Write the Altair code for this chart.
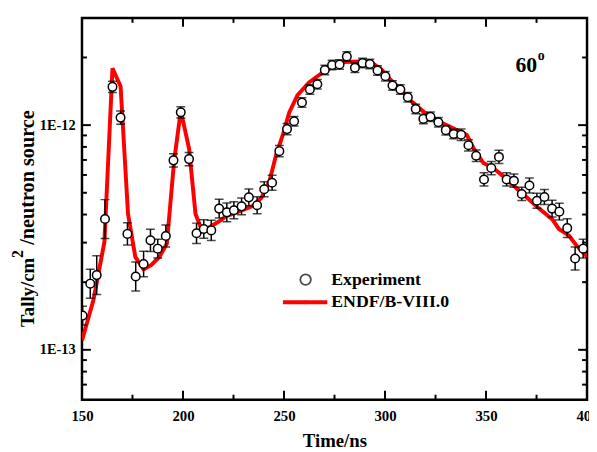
import altair as alt
import pandas as pd

# ---------------- data ----------------
exp_t = [150.3, 154.1, 157.3, 161.4, 165.1, 169.1, 172.5, 176.6, 180.5, 183.9,
         187.5, 191.5, 195.3, 198.9, 203.0, 206.7, 210.3, 214.0, 217.9, 221.7,
         225.2, 229.0, 232.6, 236.7, 240.2, 244.1, 247.7, 251.5, 255.0, 258.9,
         262.8, 266.5, 270.2, 273.8, 277.5, 281.1, 285.1, 288.9, 292.5, 296.3,
         300.2, 303.7, 307.6, 311.3, 315.2, 319.0, 322.5, 326.4, 330.1, 334.0,
         337.7, 341.3, 345.1, 349.0, 352.6, 356.4, 360.2, 363.8, 367.7, 371.5,
         375.2, 378.9, 382.7, 386.3, 390.2, 394.1, 398.1]
exp_v = [1.42e-13, 1.97e-13, 2.15e-13, 3.82e-13, 1.48e-12, 1.08e-12, 3.28e-13, 2.12e-13, 2.41e-13, 3.07e-13,
         2.82e-13, 3.21e-13, 6.97e-13, 1.14e-12, 7.06e-13, 3.30e-13, 3.45e-13, 3.40e-13, 4.25e-13, 4.09e-13,
         4.18e-13, 4.35e-13, 4.77e-13, 4.40e-13, 5.18e-13, 5.54e-13, 7.66e-13, 9.60e-13, 1.04e-12, 1.26e-12,
         1.44e-12, 1.52e-12, 1.76e-12, 1.85e-12, 1.86e-12, 2.02e-12, 1.80e-12, 1.89e-12, 1.87e-12, 1.75e-12,
         1.65e-12, 1.50e-12, 1.44e-12, 1.33e-12, 1.18e-12, 1.066e-12, 1.09e-12, 1.03e-12, 9.50e-13, 9.13e-13,
         9.06e-13, 8.13e-13, 7.31e-13, 5.73e-13, 6.44e-13, 7.22e-13, 5.73e-13, 5.66e-13, 4.94e-13, 5.39e-13,
         4.61e-13, 4.79e-13, 4.25e-13, 4.12e-13, 3.48e-13, 2.55e-13, 2.82e-13]
exp_err = [0.10, 0.16, 0.22, 0.22, 0.06, 0.07, 0.12, 0.16, 0.14, 0.12,
           0.10, 0.12, 0.07, 0.06, 0.07, 0.11, 0.10, 0.11, 0.10, 0.10,
           0.09, 0.09, 0.09, 0.09, 0.08, 0.08, 0.06, 0.06, 0.05, 0.05,
           0.05, 0.05, 0.05, 0.05, 0.05, 0.05, 0.05, 0.05, 0.05, 0.05,
           0.05, 0.05, 0.05, 0.05, 0.05, 0.05, 0.05, 0.05, 0.05, 0.05,
           0.06, 0.06, 0.06, 0.07, 0.07, 0.07, 0.07, 0.07, 0.07, 0.08,
           0.08, 0.08, 0.09, 0.09, 0.10, 0.125, 0.10]

endf_t = [150.0, 155.7, 161.1, 165.1, 169.1, 172.8, 176.4, 180.5, 184.2, 188.3,
          192.0, 195.6, 198.9, 203.0, 206.2, 209.5, 213.5, 218.4, 221.7, 226.6,
          234.7, 238.8, 242.8, 246.1, 249.4, 252.6, 256.7, 262.4, 270.5, 279.5,
          287.0, 293.3, 298.2, 303.1, 308.0, 312.9, 319.4, 327.5, 334.0, 340.5,
          343.8, 348.7, 353.6, 358.5, 366.6, 376.0, 382.9, 386.1, 391.1, 394.3,
          400.0]
endf_v = [1.10e-13, 1.67e-13, 3.02e-13, 1.79e-12, 1.49e-12, 4.02e-13, 2.59e-13, 2.28e-13, 2.38e-13, 2.59e-13,
          2.97e-13, 6.90e-13, 1.16e-12, 7.87e-13, 4.02e-13, 3.37e-13, 3.53e-13, 3.76e-13, 3.95e-13, 4.09e-13,
          4.37e-13, 4.75e-13, 5.63e-13, 7.38e-13, 9.04e-13, 1.14e-12, 1.36e-12, 1.55e-12, 1.75e-12, 1.91e-12,
          1.92e-12, 1.90e-12, 1.77e-12, 1.58e-12, 1.43e-12, 1.28e-12, 1.14e-12, 1.03e-12, 9.66e-13, 9.04e-13,
          7.90e-13, 6.78e-13, 6.44e-13, 5.93e-13, 5.09e-13, 4.28e-13, 3.80e-13, 3.45e-13, 3.22e-13, 2.95e-13,
          2.60e-13]

x_major = [150, 200, 250, 300, 350, 400]
x_minor = [175, 225, 275, 325, 375]
y_major = [1e-13, 1e-12]
y_minor = [7e-14, 8e-14, 9e-14, 2e-13, 3e-13, 4e-13, 5e-13, 6e-13, 7e-13, 8e-13, 9e-13, 2e-12]

legend_labels = ["Experiment", "ENDF/B-VIII.0"]
angle_label = "60"

# ---------------- setup ----------------
W, H = 512, 387
FONT = "Liberation Serif"

exp = pd.DataFrame({"t": exp_t, "v": exp_v, "e": exp_err})
exp["lo"] = exp["v"] / (1 + exp["e"])
exp["hi"] = exp["v"] * (1 + exp["e"])
endf = pd.DataFrame({"t": endf_t, "v": endf_v})

xs = alt.Scale(domain=[150, 400], nice=False, zero=False)
ys = alt.Scale(type="log", domain=[6e-14, 3e-12], nice=False)

x_axis = alt.Axis(values=x_major, title=None, grid=False, ticks=False, tickSize=0,
                  domain=False, labelFont=FONT, labelFontSize=15, labelFontWeight="bold",
                  labelColor="black", labelPadding=9, labelFlush=False,
                  labelOverlap=False, format="d")
y_axis = alt.Axis(values=y_major, title=None, grid=False, ticks=False, tickSize=0,
                  domain=False, labelFont=FONT, labelFontSize=14.5, labelFontWeight="bold",
                  labelColor="black", labelPadding=7, labelFlush=False,
                  labelOverlap=False,
                  labelExpr="'1E' + round(log(datum.value) / LN10)")


def X(f):
    return alt.X(f"{f}:Q", scale=xs, axis=x_axis)


def Y(f):
    return alt.Y(f"{f}:Q", scale=ys, axis=y_axis)


one = pd.DataFrame({"a": [0]})

line = alt.Chart(endf).mark_line(color="#ff0000", strokeWidth=4, clip=True).encode(
    x=X("t"), y=Y("v"), order="t:Q")

bars = alt.Chart(exp).mark_rule(color="black", strokeWidth=1.5, clip=True).encode(
    x=X("t"), y=Y("lo"), y2="hi:Q")
caps_lo = alt.Chart(exp).mark_tick(color="black", orient="horizontal", size=9,
                                   thickness=1.5, clip=True).encode(x=X("t"), y=Y("lo"))
caps_hi = alt.Chart(exp).mark_tick(color="black", orient="horizontal", size=9,
                                   thickness=1.5, clip=True).encode(x=X("t"), y=Y("hi"))
pts = alt.Chart(exp).mark_point(shape="circle", size=75, filled=False, fill="white",
                                fillOpacity=1, stroke="black", strokeWidth=1.5,
                                clip=True).encode(x=X("t"), y=Y("v"))

xmaj = pd.DataFrame({"t": x_major})
xmin = pd.DataFrame({"t": x_minor})
ymaj = pd.DataFrame({"v": y_major})
ymin = pd.DataFrame({"v": y_minor})
tk = dict(color="black", strokeWidth=2)
MAJ, MIN = 9, 5
ticks = [
    alt.Chart(xmaj).mark_rule(**tk).encode(x=X("t"), y=alt.value(H), y2=alt.value(H - MAJ)),
    alt.Chart(xmin).mark_rule(**tk).encode(x=X("t"), y=alt.value(H), y2=alt.value(H - MIN)),
    alt.Chart(xmaj).mark_rule(**tk).encode(x=X("t"), y=alt.value(0), y2=alt.value(MAJ)),
    alt.Chart(xmin).mark_rule(**tk).encode(x=X("t"), y=alt.value(0), y2=alt.value(MIN)),
    alt.Chart(ymaj).mark_rule(**tk).encode(y=Y("v"), x=alt.value(0), x2=alt.value(MAJ)),
    alt.Chart(ymin).mark_rule(**tk).encode(y=Y("v"), x=alt.value(0), x2=alt.value(MIN)),
    alt.Chart(ymaj).mark_rule(**tk).encode(y=Y("v"), x=alt.value(W), x2=alt.value(W - MAJ)),
    alt.Chart(ymin).mark_rule(**tk).encode(y=Y("v"), x=alt.value(W), x2=alt.value(W - MIN)),
]

tfont = dict(font=FONT, fontWeight="bold", color="black")

# legend
leg_circle = alt.Chart(one).mark_point(shape="circle", size=115, filled=False,
                                       stroke="black", strokeWidth=1.8).encode(
    x=alt.value(226.7), y=alt.value(265.3))
leg_line = alt.Chart(one).mark_rule(color="#ff0000", strokeWidth=4).encode(
    x=alt.value(203.7), x2=alt.value(248.7), y=alt.value(288.3))
leg_dot = alt.Chart(one).mark_point(shape="circle", size=18, filled=True,
                                    color="#ff0000").encode(
    x=alt.value(226.7), y=alt.value(288.3))
leg_t1 = alt.Chart(one).mark_text(text=legend_labels[0], fontSize=18, align="left",
                                  baseline="middle", **tfont).encode(
    x=alt.value(252.7), y=alt.value(265.3))
leg_t2 = alt.Chart(one).mark_text(text=legend_labels[1], fontSize=18, align="left",
                                  baseline="middle", **tfont).encode(
    x=alt.value(252.7), y=alt.value(288.3))

# angle annotation
ang = alt.Chart(one).mark_text(text=angle_label, fontSize=22, align="left",
                               baseline="alphabetic", **tfont).encode(
    x=alt.value(439.4), y=alt.value(55.3))
ang_o = alt.Chart(one).mark_text(text="o", fontSize=14, align="left",
                                 baseline="alphabetic", **tfont).encode(
    x=alt.value(462.0), y=alt.value(42.5))

# axis titles
xtitle = alt.Chart(one).mark_text(text="Time/ns", fontSize=19, align="center",
                                  baseline="alphabetic", **tfont).encode(
    x=alt.value(256.4), y=alt.value(435.3))
yt1 = alt.Chart(one).mark_text(text="Tally/cm", fontSize=19, angle=270, align="left",
                               baseline="alphabetic", **tfont).encode(
    x=alt.value(-48.3), y=alt.value(313.3))
yt2 = alt.Chart(one).mark_text(text="2", fontSize=16, angle=270, align="left",
                               baseline="alphabetic", **tfont).encode(
    x=alt.value(-60.0), y=alt.value(243.5))
yt3 = alt.Chart(one).mark_text(text="/neutron source", fontSize=20.5, angle=270,
                               align="right", baseline="alphabetic", **tfont).encode(
    x=alt.value(-48.3), y=alt.value(93.6))

chart = alt.layer(
    line, bars, caps_lo, caps_hi, pts, *ticks,
    leg_circle, leg_line, leg_dot, leg_t1, leg_t2, ang, ang_o,
    xtitle, yt1, yt2, yt3,
).properties(
    width=W, height=H,
    autosize=alt.AutoSizeParams(type="none"),
    padding={"left": 75, "top": 7, "right": 2, "bottom": 50},
    background="white",
).configure_view(
    stroke="black", strokeWidth=2.5
)

chart.save("out.html", embed_options={"renderer": "svg", "actions": False})
